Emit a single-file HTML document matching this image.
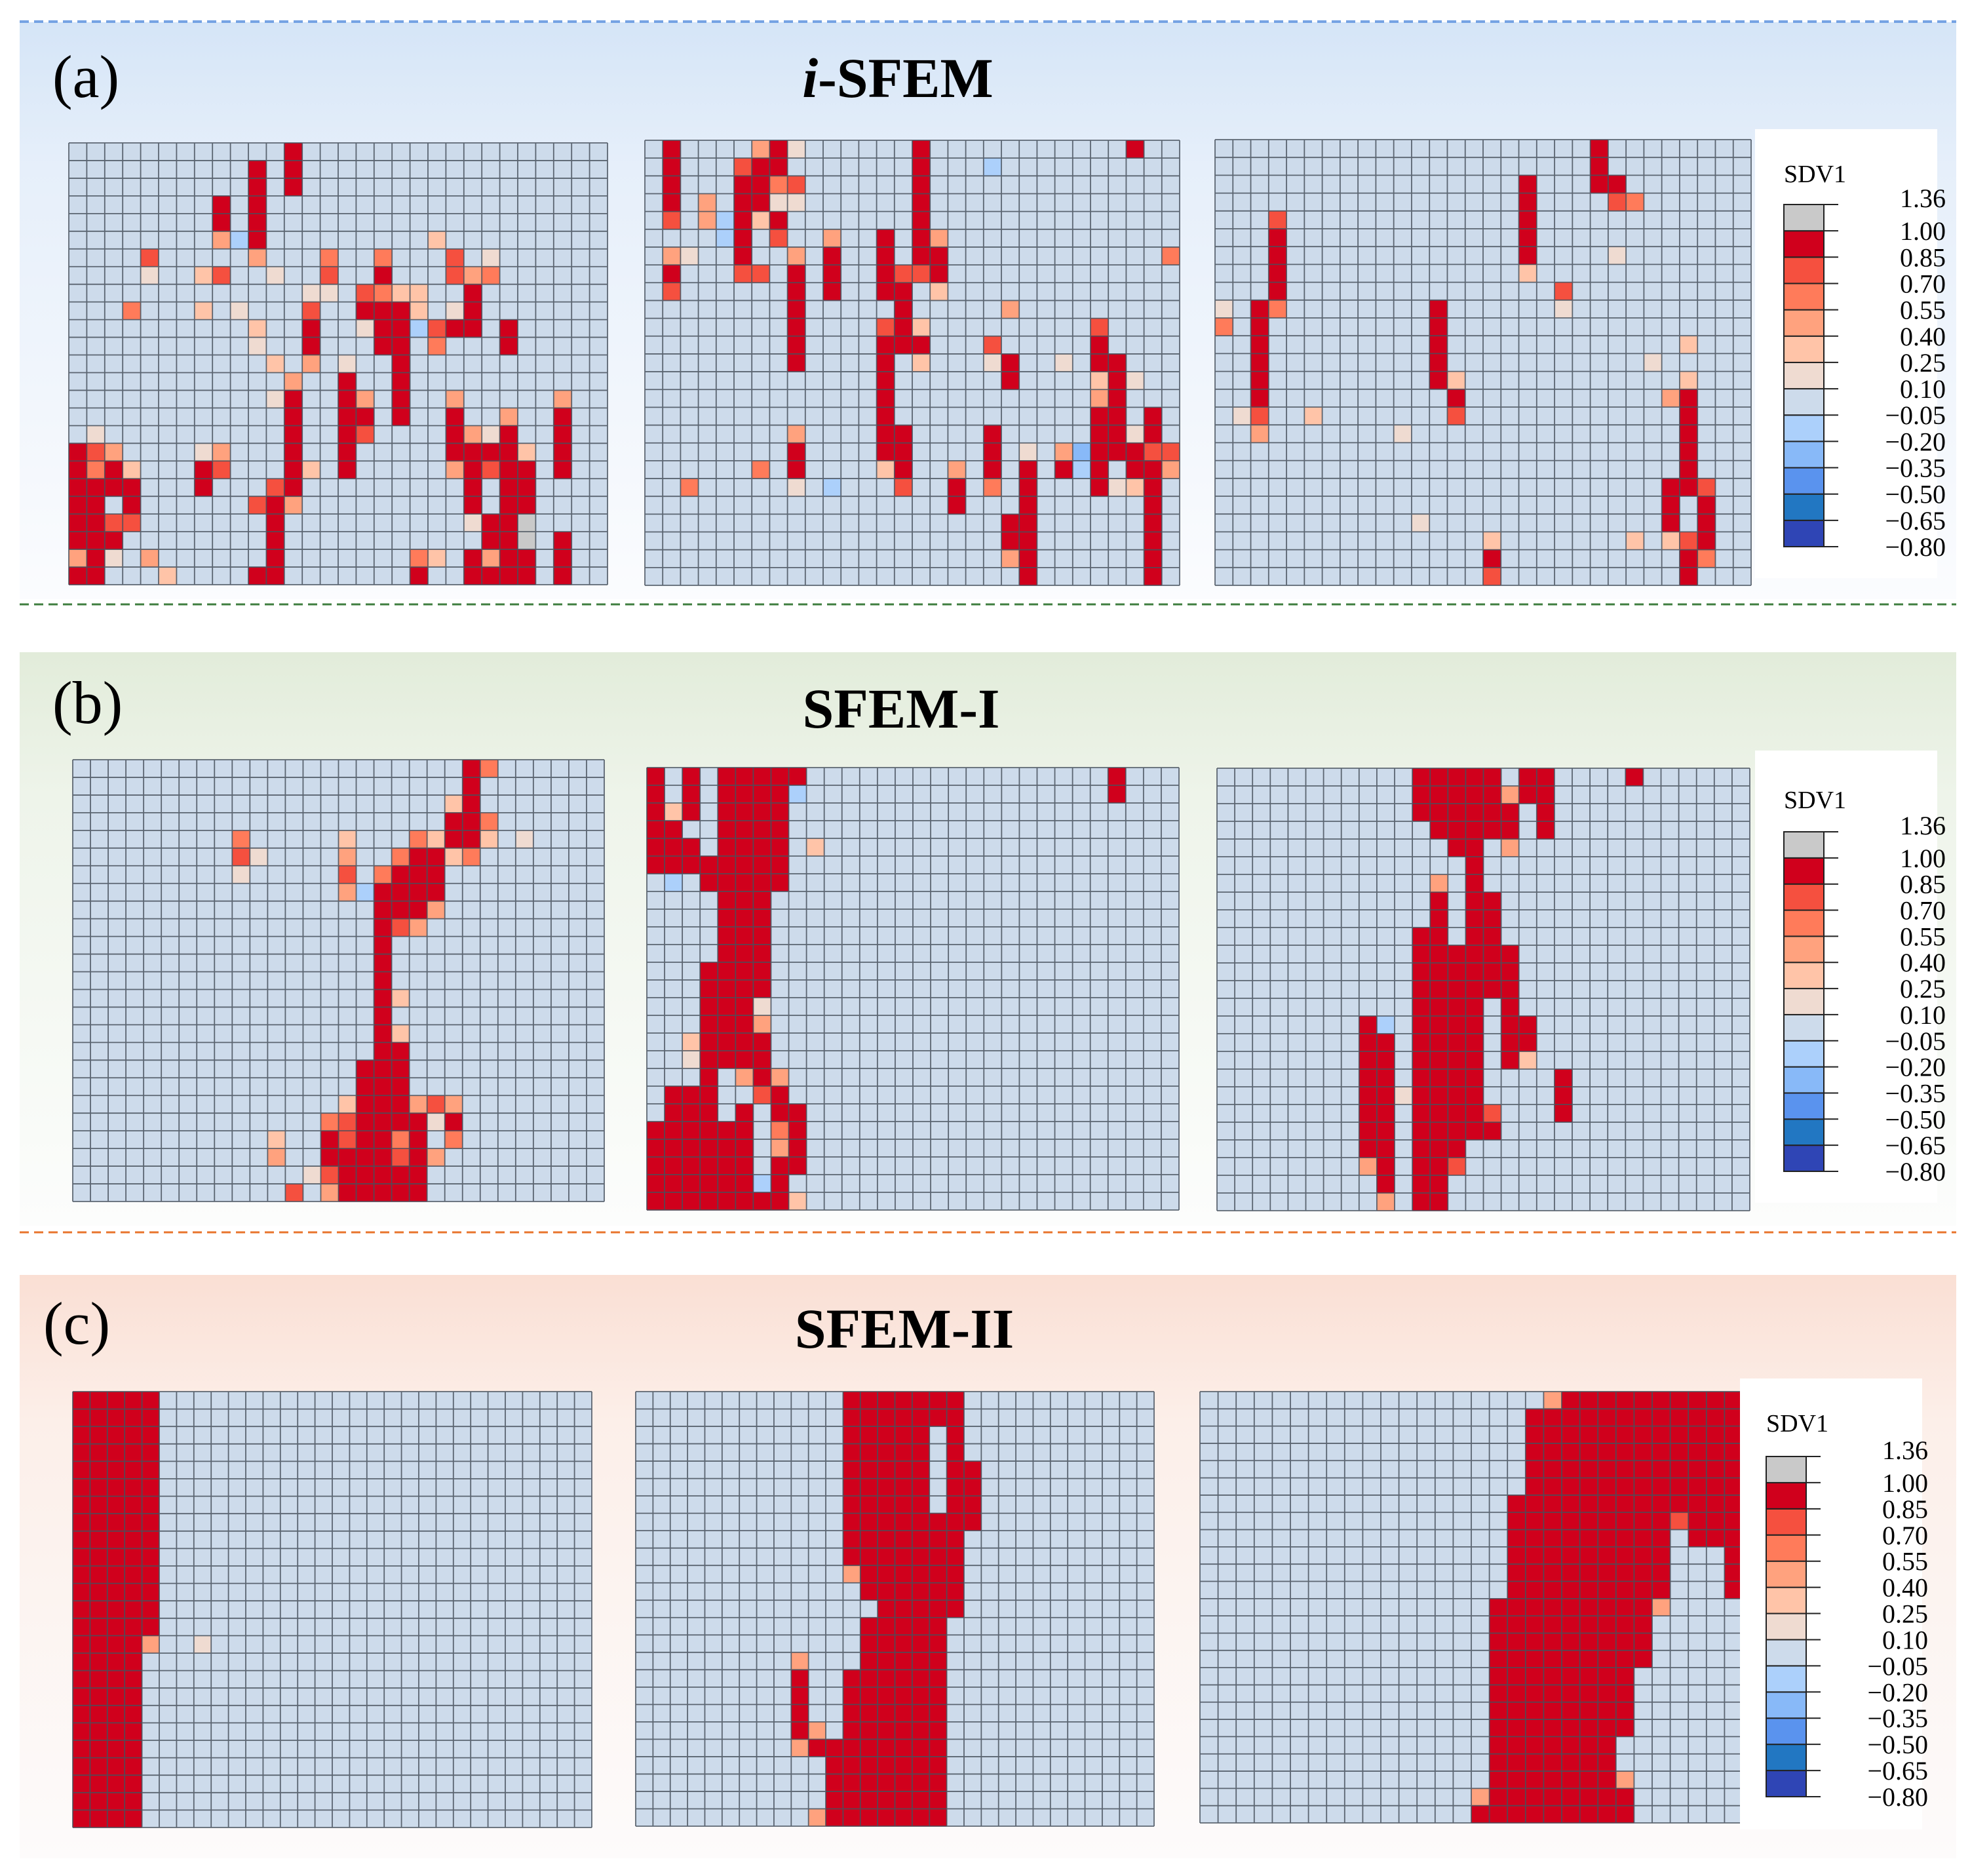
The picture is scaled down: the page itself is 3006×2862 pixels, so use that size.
<!DOCTYPE html>
<html><head><meta charset="utf-8"><style>
html,body{margin:0;padding:0;background:#fff;}
svg{display:block;}
text{font-family:"Liberation Serif",serif;}
</style></head><body>
<svg id="fig" width="3006" height="2862" viewBox="0 0 3006 2862" xmlns="http://www.w3.org/2000/svg" font-family="Liberation Serif, serif">
<defs>
<linearGradient id="gA" x1="0" y1="0" x2="0" y2="1"><stop offset="0" stop-color="#d5e5f7"/><stop offset="0.25" stop-color="#e6effa"/><stop offset="1" stop-color="#fbfcfe"/></linearGradient>
<linearGradient id="gB" x1="0" y1="0" x2="0" y2="1"><stop offset="0" stop-color="#e2ecda"/><stop offset="0.25" stop-color="#eef4ea"/><stop offset="1" stop-color="#fcfdfc"/></linearGradient>
<linearGradient id="gC" x1="0" y1="0" x2="0" y2="1"><stop offset="0" stop-color="#fadfd4"/><stop offset="0.25" stop-color="#fcefe9"/><stop offset="1" stop-color="#fdfbfb"/></linearGradient>
</defs>
<rect x="30" y="34" width="2955" height="880" fill="url(#gA)"/>
<rect x="30" y="995" width="2955" height="875" fill="url(#gB)"/>
<rect x="30" y="1945" width="2955" height="890" fill="url(#gC)"/>
<line x1="30" y1="33" x2="2985" y2="33" stroke="#76a3e3" stroke-width="4" stroke-dasharray="14,8"/>
<line x1="30" y1="922" x2="2985" y2="922" stroke="#3f7e3f" stroke-width="3" stroke-dasharray="14,8"/>
<line x1="30" y1="1880" x2="2985" y2="1880" stroke="#e8742c" stroke-width="3" stroke-dasharray="14,8"/>
<text x="80" y="148" font-size="92" font-family="Liberation Serif, serif">(a)</text>
<text x="1370" y="148" font-size="86" font-weight="bold" font-family="Liberation Serif, serif" text-anchor="middle"><tspan font-style="italic">i</tspan>-SFEM</text>
<text x="80" y="1103" font-size="92" font-family="Liberation Serif, serif">(b)</text>
<text x="1375" y="1110" font-size="86" font-weight="bold" font-family="Liberation Serif, serif" text-anchor="middle">SFEM-I</text>
<text x="66" y="2050" font-size="92" font-family="Liberation Serif, serif">(c)</text>
<text x="1380" y="2056" font-size="86" font-weight="bold" font-family="Liberation Serif, serif" text-anchor="middle">SFEM-II</text>
<g id="grids"></g>
<g id="bars"></g>
</svg>
<script>
const tickLabels = ["\u22120.80","\u22120.65","\u22120.50","\u22120.35","\u22120.20","\u22120.05","0.10","0.25","0.40","0.55","0.70","0.85","1.00","1.36"];
const levelColors = ["#2f45b5","#2277c2","#5a93ee","#88b9f8","#acd0fb","#cddbeb","#efdbd1","#ffc4a8","#ffa27e","#ff7b5a","#f5503f","#d0001c","#c9c9c9"];
const codeValues = {"0":0,"b":-0.1,"B":-0.25,"3":0.18,"4":0.32,"5":0.48,"6":0.62,"7":0.78,"R":0.92,"g":1.2};
const gridA1 = ["12:R","10:R 12:R","10:R 12:R","8:R 10:R","8:R 10:R","8:5 9:b 10:R 20:4","4:7 10:5 14:6 17:6 21:7 23:3","4:3 7:4 8:7 11:3 14:7 17:R 21:7 22:5 23:6","13:3 14:3 16:7 17:6 18:4 19:4 22:R","3:6 7:4 9:3 13:7 16-18:R 19:4 21:3 22:R","10:4 13:R 16:3 17-18:R 19:b 20:7 21-22:R 24:R","10:3 13:R 17-18:R 20:6 24:R","11:4 13:5 15:3 18:R","12:5 15:R 18:R","11:3 12:R 15:R 16:5 18:R 21:5 27:5","12:R 15-16:R 18:R 21:R 24:5 27:R","1:3 12:R 15:R 16:7 21:R 22:5 23:3 24:R 27:R","0:R 1:7 2:5 7:3 8:5 12:R 15:R 21-24:R 25:4 27:R","0:R 1:6 2:R 3:4 7:R 8:7 12:R 13:4 15:R 21:5 22:R 23:7 24-25:R 27:R","0-3:R 7:R 11:7 12:R 22:R 24-25:R","0-1:R 3:R 10:7 11:R 12:5 22:R 24-25:R","0-1:R 2-3:7 11:R 22:3 23-24:R 25:g","0-2:R 11:R 23-24:R 25:g 27:R","0:5 1:R 2:3 4:5 11:R 19:6 20:4 22:R 23:5 24-25:R 27:R","0-1:R 5:4 10-11:R 19:R 22-25:R 27:R"];
const gridA2 = ["1:R 6:5 7:R 8:3 15:R 27:R","1:R 5:7 6-7:R 15:R 19:b","1:R 5-6:R 7:6 8:7 15:R","1:R 3:5 5-6:R 7-8:3 15:R","1:7 3:5 4:b 5:R 6:4 7:R 15:R","4:b 5:R 7:7 10:5 13:R 15:R 16:5","1:5 2:3 5:R 8:5 10:R 13:R 15-16:R 29:6","1:R 5-6:7 8:R 10:R 13:R 14-15:7 16:R","1:7 8:R 10:R 13-14:R 16:4","8:R 14:R 20:5","8:R 13:7 14:R 15:4 25:7","8:R 13-15:R 19:7 25:R","8:R 13:R 15:4 19:3 20:R 23:3 25-26:R","13:R 20:R 25:4 26:R 27:3","13:R 25:5 26:R","13:R 25-26:R 28:R","8:5 13-14:R 19:R 25-26:R 27:3 28:R","8:R 13-14:R 19:R 21:3 23:5 24:B 25-27:R 28-29:7","6:6 8:R 13:4 14:R 17:5 19:R 21:R 23:R 24:b 25:R 27-28:R 29:5","2:6 8:3 10:b 14:7 17:R 19:6 21:R 25:R 26:3 27:4 28:R","17:R 21:R 28:R","20-21:R 28:R","20-21:R 28:R","20:5 21:R 28:R","21:R 28:R"];
const gridA3 = ["21:R","21:R","17:R 21-22:R","17:R 22:7 23:6","3:7 17:R","3:R 17:R","3:R 17:R 22:3","3:R 17:4","3:R 19:7","0:3 2:R 3:6 12:R 19:3","0:6 2:R 12:R","2:R 12:R 26:4","2:R 12:R 24:3","2:R 12:R 13:4 26:4","2:R 13:R 25:5 26:R","1:3 2:7 5:4 13:7 26:R","2:5 10:3 26:R","26:R","26:R","25-26:R 27:7","25:R 27:R","11:3 25:R 27:R","15:4 23:4 25:4 26:7 27:R","15:R 26:R 27:6","15:7 26:R"];
const gridB1 = ["22:R 23:6","22:R","21:4 22:R","21-22:R 23:6","9:6 15:4 19:6 20:4 21-22:R 23:4 25:3","9:7 10:3 15:5 18:6 19-20:R 21:4 22:6","9:3 15:7 17:6 18-20:R","15:5 16:b 17-20:R","17-19:R 20:5","17:R 18:7 19:5","17:R","17:R","17:R","17:R 18:4","17:R","17:R 18:4","17-18:R","16-18:R","16-18:R","15:4 16-18:R 19:5 20:7 21:5","14:6 15:7 16-19:R 20:3 21:R","11:4 14:R 15:7 16-17:R 18:6 19:R 21:6","11:5 14-17:R 18:7 19:R 20:5","13:3 14:7 15-19:R","12:7 14:5 15-19:R"];
const gridB2 = ["0:R 2:R 4-8:R 26:R","0:R 2:R 4-7:R 8:b 26:R","0:R 1:4 2:R 4-7:R","0-1:R 4-7:R","0-2:R 4-7:R 9:4","0-7:R","1:b 3-7:R","4-6:R","4-6:R","4-6:R","4-6:R","3-6:R","3-6:R","3-5:R 6:3","3-5:R 6:5","2:4 3-6:R","2:3 3-6:R","3:R 5:5 6:R 7:5","1-3:R 6:7 7:R","1-3:R 5:R 7-8:R","0-5:R 7:6 8:R","0-5:R 7:5 8:R","0-5:R 7-8:R","0-5:R 6:b 7:R","0-7:R 8:4"];
const gridB3 = ["11-15:R 17-18:R 23:R","11-15:R 16:5 17-18:R","11-16:R 18:R","12-16:R 18:R","13-14:R 16:5","14:R","12:5 14:R","12:R 14-15:R","12:R 14-15:R","11-12:R 14-15:R","11-16:R","11-16:R","11-16:R","11-14:R 16:R","8:R 9:b 11-14:R 16-17:R","8-9:R 11-14:R 16-17:R","8-9:R 11-14:R 16:R 17:4","8-9:R 11-14:R 19:R","8-9:R 10:3 11-14:R 19:R","8-9:R 11-14:R 15:7 19:R","8-9:R 11-15:R","8-9:R 11-13:R","8:5 9:R 11-12:R 13:7","9:R 11-12:R","9:5 11-12:R"];
const gridC1 = ["0-4:R","0-4:R","0-4:R","0-4:R","0-4:R","0-4:R","0-4:R","0-4:R","0-4:R","0-4:R","0-4:R","0-4:R","0-4:R","0-4:R","0-3:R 4:5 7:3","0-3:R","0-3:R","0-3:R","0-3:R","0-3:R","0-3:R","0-3:R","0-3:R","0-3:R","0-3:R"];
const gridC2 = ["12-18:R","12-18:R","12-16:R 18:R","12-16:R 18:R","12-16:R 18-19:R","12-16:R 18-19:R","12-16:R 18-19:R","12-19:R","12-18:R","12-18:R","12:5 13-18:R","13-18:R","14-18:R","13-17:R","13-17:R","9:5 13-17:R","9:R 12-17:R","9:R 12-17:R","9:R 12-17:R","9:R 10:5 12-17:R","9:5 10-17:R","11-17:R","11-17:R","11-17:R","10:5 11-17:R"];
const gridC3 = ["19:5 20-29:R","18-29:R","18-29:R","18-29:R","18-29:R","18-29:R","17-29:R","17-25:R 26:7 27-29:R","17-25:R 27-29:R","17-25:R 29:R","17-25:R 29:R","17-25:R 29:R","16-24:R 25:5","16-24:R","16-24:R","16-24:R","16-23:R","16-23:R","16-23:R","16-23:R","16-22:R","16-22:R","16-22:R 23:5","15:5 16-23:R","15-23:R"];
const gridNames = ["grid-a-1","grid-a-2","grid-a-3","grid-b-1","grid-b-2","grid-b-3","grid-c-1","grid-c-2","grid-c-3"];
const gridData = [gridA1,gridA2,gridA3,gridB1,gridB2,gridB3,gridC1,gridC2,gridC3];
</script>
<script>
const NS="http://www.w3.org/2000/svg";
const boxes=[[105,218,927,892],[984,214,1800,893],[1854,213,2672,893],[111,1159,922,1833],[987,1171,1799,1846],[1857,1172,2670,1847],[111,2123,903,2788],[970,2123,1761,2786],[1831,2123,2659,2781]];
const COLS=30, ROWS=25;
function colorFor(v){
  const b=[-0.8,-0.65,-0.5,-0.35,-0.2,-0.05,0.1,0.25,0.4,0.55,0.7,0.85,1.0,1.36];
  for(let i=0;i<b.length-1;i++){ if(v>=b[i]&&v<b[i+1]) return levelColors[i]; }
  return v<b[0]?levelColors[0]:levelColors[levelColors.length-1];
}
function parseRow(s){
  const vals=new Array(COLS).fill(0);
  s.trim().split(/\s+/).forEach(tok=>{ if(!tok) return;
    const [rng,code]=tok.split(":"); const p=rng.split("-").map(Number);
    const a=p[0], b=p.length>1?p[1]:p[0];
    for(let c=a;c<=b;c++) vals[c]=codeValues[code]; });
  return vals;
}
const gRoot=document.getElementById("grids");
gridData.forEach((rows,gi)=>{
  const [x0,y0,x1,y1]=boxes[gi];
  const xs=c=>x0+(x1-x0)*c/COLS, ys=r=>y0+(y1-y0)*r/ROWS;
  const g=document.createElementNS(NS,"g");
  
  
  rows.forEach((row,r)=>{
    parseRow(row).forEach((v,c)=>{
      const rect=document.createElementNS(NS,"rect");
      rect.setAttribute("x",xs(c)); rect.setAttribute("y",ys(r));
      rect.setAttribute("width",xs(c+1)-xs(c)+0.5); rect.setAttribute("height",ys(r+1)-ys(r)+0.5);
      rect.setAttribute("fill",colorFor(v));
      
      
      g.appendChild(rect);
    });
  });
  let d="";
  for(let c=0;c<=COLS;c++) d+=`M${xs(c)},${y0}V${y1}`;
  for(let r=0;r<=ROWS;r++) d+=`M${x0},${ys(r)}H${x1}`;
  const p=document.createElementNS(NS,"path");
  p.setAttribute("d",d); p.setAttribute("stroke","#46505c"); p.setAttribute("stroke-width","1.8"); p.setAttribute("fill","none"); p.setAttribute("opacity","0.85");
  
  
  g.appendChild(p);
  gRoot.appendChild(g);
});
const bars=[{bx:2678,by:197,bw:278,bh:685,tx:2722,ty:278,x:2722,top:312,bot:834,name:"colorbar-a"},
            {bx:2678,by:1145,bw:278,bh:690,tx:2722,ty:1233,x:2722,top:1269,bot:1787,name:"colorbar-b"},
            {bx:2655,by:2103,bw:278,bh:688,tx:2695,ty:2184,x:2695,top:2222,bot:2741,name:"colorbar-c"}];
const bRoot=document.getElementById("bars");
bars.forEach(b=>{
  const g=document.createElementNS(NS,"g");
  
  
  const bg=document.createElementNS(NS,"rect");
  bg.setAttribute("x",b.bx); bg.setAttribute("y",b.by); bg.setAttribute("width",b.bw); bg.setAttribute("height",b.bh); bg.setAttribute("fill","#ffffff");
  
  
  g.appendChild(bg);
  const t=document.createElementNS(NS,"text");
  t.setAttribute("x",b.tx); t.setAttribute("y",b.ty); t.setAttribute("font-size","38"); t.setAttribute("font-family","Liberation Serif, serif"); t.textContent="SDV1";
  
  
  g.appendChild(t);
  const n=levelColors.length, h=(b.bot-b.top)/n, w=61;
  for(let i=0;i<n;i++){
    const r=document.createElementNS(NS,"rect");
    r.setAttribute("x",b.x); r.setAttribute("y",b.bot-(i+1)*h); r.setAttribute("width",w); r.setAttribute("height",h);
    r.setAttribute("fill",levelColors[i]); r.setAttribute("stroke","#222"); r.setAttribute("stroke-width","2");
    
    
    g.appendChild(r);
  }
  tickLabels.forEach((lab,i)=>{
    const y=b.bot-i*h;
    const l=document.createElementNS(NS,"line");
    l.setAttribute("x1",b.x+w); l.setAttribute("x2",b.x+w+22); l.setAttribute("y1",y); l.setAttribute("y2",y); l.setAttribute("stroke","#222"); l.setAttribute("stroke-width","2");
    
    
    g.appendChild(l);
    const tx=document.createElementNS(NS,"text");
    tx.setAttribute("x",b.x+247); tx.setAttribute("y",y+(i===n?4:14)); tx.setAttribute("font-size","40"); tx.setAttribute("font-family","Liberation Serif, serif"); tx.setAttribute("text-anchor","end");
    tx.textContent=lab;
    
    
    g.appendChild(tx);
  });
  bRoot.appendChild(g);
});
</script>
</body></html>
